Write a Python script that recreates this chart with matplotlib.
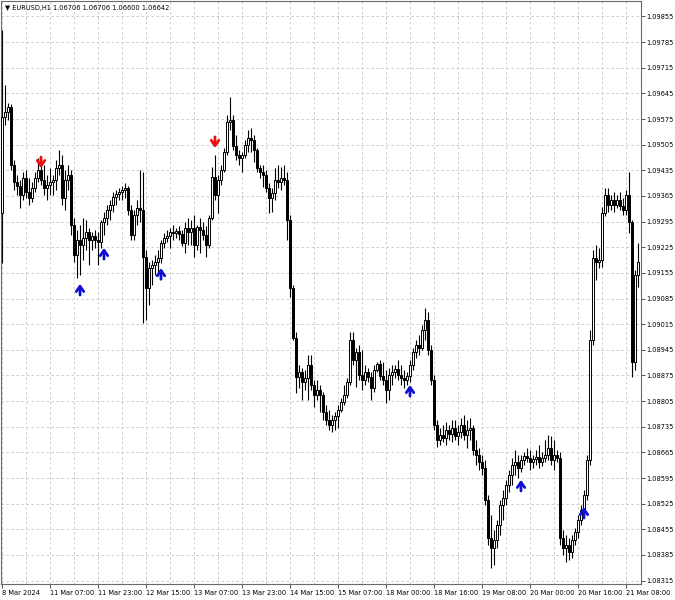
import numpy as np
import matplotlib
matplotlib.use('Agg')
import matplotlib.pyplot as plt

# EURUSD H1, bars (open = previous close)
first_open = 1.09318
closes = [
    1.09581, 1.09594, 1.09608, 1.09450, 1.09403, 1.09392, 1.09368, 1.09414, 1.09376, 1.09359,
    1.09387, 1.09414, 1.09436, 1.09409, 1.09387, 1.09395, 1.09403, 1.09409, 1.09441, 1.09450,
    1.09359, 1.09409, 1.09422, 1.09286, 1.09204, 1.09245, 1.09231, 1.09250, 1.09267, 1.09245,
    1.09256, 1.09245, 1.09239, 1.09294, 1.09305, 1.09327, 1.09340, 1.09362, 1.09370, 1.09376,
    1.09381, 1.09387, 1.09327, 1.09258, 1.09313, 1.09332, 1.09327, 1.09198, 1.09114, 1.09168,
    1.09177, 1.09185, 1.09196, 1.09237, 1.09250, 1.09256, 1.09267, 1.09264, 1.09269, 1.09261,
    1.09237, 1.09278, 1.09267, 1.09278, 1.09231, 1.09280, 1.09272, 1.09258, 1.09231, 1.09305,
    1.09417, 1.09368, 1.09409, 1.09436, 1.09485, 1.09567, 1.09572, 1.09501, 1.09477, 1.09469,
    1.09477, 1.09504, 1.09523, 1.09518, 1.09490, 1.09441, 1.09430, 1.09422, 1.09387, 1.09359,
    1.09373, 1.09409, 1.09403, 1.09414, 1.09409, 1.09299, 1.09114, 1.08977, 1.08871, 1.08884,
    1.08857, 1.08868, 1.08904, 1.08849, 1.08822, 1.08835, 1.08822, 1.08775, 1.08753, 1.08740,
    1.08753, 1.08764, 1.08781, 1.08803, 1.08822, 1.08857, 1.08972, 1.08917, 1.08939, 1.08876,
    1.08863, 1.08884, 1.08871, 1.08841, 1.08890, 1.08906, 1.08874, 1.08863, 1.08835, 1.08876,
    1.08884, 1.08893, 1.08876, 1.08868, 1.08863, 1.08874, 1.08904, 1.08939, 1.08958, 1.08950,
    1.08999, 1.09026, 1.08945, 1.08863, 1.08740, 1.08699, 1.08712, 1.08704, 1.08726, 1.08715,
    1.08732, 1.08710, 1.08721, 1.08740, 1.08712, 1.08726, 1.08732, 1.08672, 1.08658, 1.08639,
    1.08622, 1.08535, 1.08431, 1.08404, 1.08426, 1.08467, 1.08521, 1.08540, 1.08576, 1.08603,
    1.08631, 1.08639, 1.08622, 1.08644, 1.08655, 1.08650, 1.08639, 1.08647, 1.08652, 1.08639,
    1.08650, 1.08658, 1.08677, 1.08644, 1.08658, 1.08650, 1.08431, 1.08404, 1.08412, 1.08393,
    1.08426, 1.08448, 1.08480, 1.08508, 1.08549, 1.08644, 1.08972, 1.09196, 1.09185, 1.09190,
    1.09318, 1.09368, 1.09340, 1.09354, 1.09340, 1.09354, 1.09338, 1.09327, 1.09368, 1.09294,
    1.08912, 1.09149, 1.09185,
]
highs = [
    1.09818, 1.09668, 1.09619, 1.09616, 1.09463, 1.09422, 1.09409, 1.09430, 1.09436, 1.09414,
    1.09403, 1.09430, 1.09469, 1.09463, 1.09450, 1.09422, 1.09441, 1.09422, 1.09463, 1.09490,
    1.09477, 1.09436, 1.09450, 1.09436, 1.09305, 1.09272, 1.09286, 1.09305, 1.09299, 1.09278,
    1.09267, 1.09272, 1.09267, 1.09299, 1.09321, 1.09340, 1.09354, 1.09376, 1.09381, 1.09387,
    1.09392, 1.09400, 1.09392, 1.09340, 1.09327, 1.09354, 1.09436, 1.09430, 1.09218, 1.09185,
    1.09190, 1.09204, 1.09218, 1.09245, 1.09264, 1.09272, 1.09278, 1.09286, 1.09278, 1.09283,
    1.09272, 1.09294, 1.09305, 1.09299, 1.09313, 1.09286, 1.09305, 1.09294, 1.09283, 1.09313,
    1.09444, 1.09477, 1.09422, 1.09450, 1.09496, 1.09586, 1.09635, 1.09586, 1.09531, 1.09490,
    1.09485, 1.09518, 1.09545, 1.09551, 1.09531, 1.09496, 1.09450, 1.09450, 1.09436, 1.09400,
    1.09387, 1.09441, 1.09450, 1.09444, 1.09450, 1.09430, 1.09313, 1.09122, 1.08994, 1.08904,
    1.08895, 1.08890, 1.08931, 1.08931, 1.08863, 1.08863, 1.08849, 1.08830, 1.08794, 1.08781,
    1.08767, 1.08775, 1.08794, 1.08813, 1.08849, 1.08868, 1.08994, 1.08994, 1.08950, 1.08958,
    1.08945, 1.08904, 1.08895, 1.08884, 1.08904, 1.08912, 1.08917, 1.08912, 1.08890, 1.08895,
    1.08904, 1.08904, 1.08917, 1.08904, 1.08890, 1.08884, 1.08917, 1.08950, 1.08972, 1.08985,
    1.09013, 1.09059, 1.09048, 1.08958, 1.08876, 1.08753, 1.08732, 1.08740, 1.08748, 1.08740,
    1.08753, 1.08753, 1.08740, 1.08759, 1.08767, 1.08753, 1.08759, 1.08740, 1.08699, 1.08677,
    1.08658, 1.08644, 1.08549, 1.08494, 1.08453, 1.08480, 1.08535, 1.08562, 1.08590, 1.08617,
    1.08650, 1.08672, 1.08658, 1.08658, 1.08666, 1.08677, 1.08672, 1.08658, 1.08672, 1.08685,
    1.08666, 1.08699, 1.08712, 1.08710, 1.08699, 1.08672, 1.08666, 1.08453, 1.08439, 1.08431,
    1.08439, 1.08459, 1.08494, 1.08521, 1.08562, 1.08658, 1.08999, 1.09218, 1.09231, 1.09223,
    1.09335, 1.09387, 1.09387, 1.09368, 1.09376, 1.09368, 1.09376, 1.09359, 1.09381, 1.09430,
    1.09299, 1.09163, 1.09237,
]
lows = [
    1.09182, 1.09559, 1.09572, 1.09436, 1.09381, 1.09368, 1.09332, 1.09354, 1.09359, 1.09340,
    1.09348, 1.09376, 1.09403, 1.09395, 1.09368, 1.09354, 1.09368, 1.09368, 1.09381, 1.09422,
    1.09340, 1.09327, 1.09381, 1.09258, 1.09185, 1.09141, 1.09149, 1.09190, 1.09218, 1.09177,
    1.09218, 1.09223, 1.09177, 1.09223, 1.09258, 1.09286, 1.09299, 1.09321, 1.09340, 1.09354,
    1.09354, 1.09359, 1.09313, 1.09245, 1.09245, 1.09286, 1.09294, 1.09018, 1.09026, 1.09067,
    1.09122, 1.09149, 1.09157, 1.09182, 1.09223, 1.09239, 1.09223, 1.09245, 1.09250, 1.09245,
    1.09228, 1.09209, 1.09231, 1.09231, 1.09198, 1.09218, 1.09209, 1.09245, 1.09198, 1.09223,
    1.09299, 1.09354, 1.09318, 1.09395, 1.09430, 1.09477, 1.09545, 1.09490, 1.09463, 1.09450,
    1.09430, 1.09469, 1.09485, 1.09485, 1.09458, 1.09430, 1.09414, 1.09389, 1.09376, 1.09318,
    1.09321, 1.09354, 1.09387, 1.09381, 1.09395, 1.09245, 1.09089, 1.08972, 1.08827, 1.08841,
    1.08808, 1.08835, 1.08808, 1.08835, 1.08789, 1.08808, 1.08775, 1.08753, 1.08740, 1.08726,
    1.08721, 1.08726, 1.08732, 1.08775, 1.08794, 1.08813, 1.08849, 1.08904, 1.08844, 1.08863,
    1.08835, 1.08849, 1.08857, 1.08808, 1.08830, 1.08884, 1.08863, 1.08849, 1.08800, 1.08808,
    1.08849, 1.08868, 1.08863, 1.08849, 1.08841, 1.08849, 1.08857, 1.08890, 1.08923, 1.08931,
    1.08945, 1.08972, 1.08931, 1.08849, 1.08726, 1.08680, 1.08685, 1.08693, 1.08685, 1.08699,
    1.08693, 1.08699, 1.08685, 1.08704, 1.08699, 1.08677, 1.08699, 1.08658, 1.08631, 1.08617,
    1.08603, 1.08521, 1.08412, 1.08349, 1.08358, 1.08404, 1.08439, 1.08480, 1.08521, 1.08557,
    1.08576, 1.08603, 1.08595, 1.08611, 1.08631, 1.08639, 1.08617, 1.08622, 1.08631, 1.08622,
    1.08628, 1.08639, 1.08644, 1.08631, 1.08617, 1.08639, 1.08412, 1.08385, 1.08366, 1.08371,
    1.08377, 1.08412, 1.08431, 1.08467, 1.08502, 1.08535, 1.08631, 1.08958, 1.09136, 1.09168,
    1.09171, 1.09310, 1.09321, 1.09327, 1.09321, 1.09332, 1.09327, 1.09313, 1.09313, 1.09264,
    1.08871, 1.08890, 1.09117,
]

time_labels = ['8 Mar 2024', '11 Mar 07:00', '11 Mar 23:00', '12 Mar 15:00', '13 Mar 07:00',
               '13 Mar 23:00', '14 Mar 15:00', '15 Mar 07:00', '18 Mar 00:00', '18 Mar 16:00',
               '19 Mar 08:00', '20 Mar 00:00', '20 Mar 16:00', '21 Mar 08:00']
price_ticks = [1.09855, 1.09785, 1.09715, 1.09645, 1.09575, 1.09505, 1.09435, 1.09365,
               1.09295, 1.09225, 1.09155, 1.09085, 1.09015, 1.08945, 1.08875, 1.08805,
               1.08735, 1.08665, 1.08595, 1.08525, 1.08455, 1.08385, 1.08315]

# signal arrows: bar index and price at the arrow tip
up_bars = [26, 34, 53, 136, 173, 194]
up_prices = [1.09125, 1.09223, 1.09168, 1.08849, 1.08590, 1.08516]
down_bars = [13, 71]
down_prices = [1.09441, 1.09496]

header = '\u25bc EURUSD,H1 1.06706 1.06706 1.06600 1.06642'

opens = [first_open] + closes[:-1]
o = np.array(opens)
c = np.array(closes)
n = len(c)
idx = np.arange(n)
bull = c >= o

fig = plt.figure(figsize=(6.75, 6), dpi=100)
ax = fig.add_axes([1 / 675, 16 / 600, 640 / 675, 583 / 600])

# candles
ax.vlines(idx, lows, highs, color='black', lw=0.8, zorder=2)
ax.bar(idx, np.abs(c - o), bottom=np.minimum(o, c), width=0.62,
       color=np.where(bull, 'white', 'black'), edgecolor='black', linewidth=0.7, zorder=3)

# arrows
arrow_style = '->,head_length=0.38,head_width=0.27'
for b, p in zip(up_bars, up_prices):
    ax.annotate('', xy=(b, p), xytext=(0, -8), textcoords='offset points',
                arrowprops=dict(arrowstyle=arrow_style, lw=2.0, color='#1010d0',
                                shrinkA=0, shrinkB=0), zorder=5)
for b, p in zip(down_bars, down_prices):
    ax.annotate('', xy=(b, p), xytext=(0, 8), textcoords='offset points',
                arrowprops=dict(arrowstyle=arrow_style, lw=2.0, color='#e81010',
                                shrinkA=0, shrinkB=0), zorder=5)

ax.set_xlim(-1 / 3, n)
ax.set_ylim(1.083057, 1.098973)

ax.set_xticks(idx[::16])
ax.set_xticklabels(time_labels)
ax.set_xticks(idx[8::16], minor=True)
for lbl in ax.get_xticklabels():
    lbl.set_horizontalalignment('left')

ax.yaxis.tick_right()
ax.set_yticks(price_ticks)
ax.set_yticklabels(['%.5f' % t for t in price_ticks])

ax.tick_params(axis='both', which='major', length=3, width=0.7, color='#505050',
               labelsize=4.8, labelcolor='black')
ax.tick_params(axis='x', which='major', pad=1.5)
ax.tick_params(axis='y', which='major', pad=1.0)
ax.tick_params(axis='x', which='minor', length=0)

ax.grid(True, which='both', axis='x', color='#c4c4c4', lw=0.6, ls=(0, (3, 3)), zorder=0)
ax.grid(True, which='major', axis='y', color='#c4c4c4', lw=0.6, ls=(0, (3, 3)), zorder=0)
ax.set_axisbelow(True)

for s in ax.spines.values():
    s.set_color('#6a6a6a')
    s.set_linewidth(0.8)

ax.text(4 / 640, 1 - 7 / 583, header, transform=ax.transAxes, fontsize=4.8,
        va='center', ha='left')

fig.savefig('out.png', dpi=100, facecolor='white')
